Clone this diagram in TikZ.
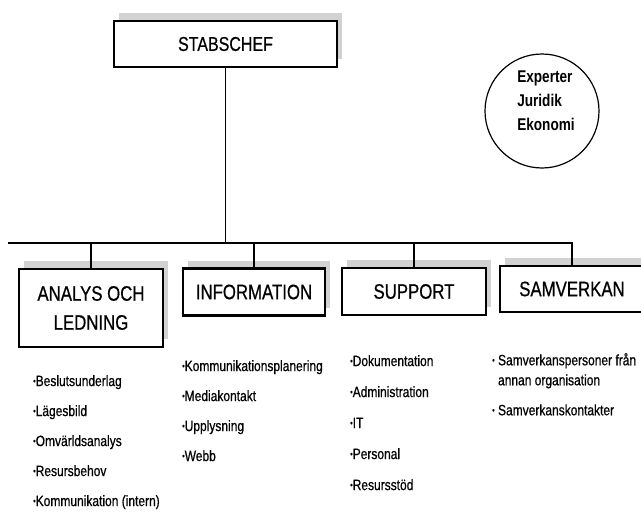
\documentclass[tikz,border=0pt]{standalone}
\usepackage{fontspec}
\setmainfont{Liberation Sans}[FakeStretch=0.8, UprightFeatures={FakeBold=0.6}]
\usepackage{graphicx}
\usepackage{tikz}
\usetikzlibrary{shadows}
\newcommand{\bul}{\raisebox{0.25ex}{\scalebox{0.6}{\textbullet}}}
\tikzset{
    unit-box/.style = {draw, fill=white, line width=2.2pt, rectangle, inner sep=0pt, align=center, font=\fontsize{21}{29}\selectfont, general shadow={fill=gray!35, shadow xshift=5pt, shadow yshift=8pt}},
    task-list/.style = {anchor=north west, inner sep=0pt, align=left, font=\fontsize{15}{30}\selectfont},
    link/.style = {line width=1.5pt},
}

\begin{document}
\begin{tikzpicture}[x=1pt, y=-1pt]
\useasboundingbox (0,0) rectangle (641,514);
% boxes
\node [unit-box, minimum width=223pt, minimum height=46pt] (stab) at (225.5,44) {\fontsize{20}{24}\selectfont STABSCHEF};
\node [unit-box, minimum width=144pt, minimum height=78pt] (ana) at (91,308) {ANALYS OCH\\LEDNING};
\node [unit-box, minimum width=142pt, minimum height=47pt] (inf) at (254,292) {INFORMATION};
\node [unit-box, minimum width=144pt, minimum height=47pt] (sup) at (414,291.5) {SUPPORT};
\node [unit-box, minimum width=144pt, minimum height=46pt] (sam) at (572,289) {SAMVERKAN};
\node [circle, draw, line width=1.2pt, minimum size=114pt] (expcirc) at (542,111) {};
\node [align=left, inner sep=0pt, font=\bfseries\fontsize{17}{24}\selectfont] (exp) at (546,101) {Experter\\Juridik\\Ekonomi};
% lines
\coordinate (busl) at (8,243);
\draw [link] (stab.south) -- (stab.south |- busl);
\draw [link] (busl) -- (busl -| sam.north) -- (sam.north);
\foreach \n in {ana,inf,sup}
    \draw [link] (\n.north |- busl) -- (\n.north);
% tasks
\node [task-list] (ana-tasks) at (33,375) {\bul Beslutsunderlag\\\bul Lägesbild\\\bul Omvärldsanalys\\\bul Resursbehov\\\bul Kommunikation (intern)};
\node [task-list] (inf-tasks) at (182,360) {\bul Kommunikationsplanering\\\bul Mediakontakt\\\bul Upplysning\\\bul Webb};
\node [task-list, font=\fontsize{15}{31}\selectfont] (sup-tasks) at (350,355) {\bul Dokumentation\\\bul Administration\\\bul IT\\\bul Personal\\\bul Resursstöd};
\node [task-list, font=\fontsize{15}{20}\selectfont] (sam-tasks) at (492,353) {\bul\ Samverkanspersoner från\\\phantom{\bul\ }annan organisation\\[10pt]\bul\ Samverkanskontakter};
\end{tikzpicture}
\end{document}
